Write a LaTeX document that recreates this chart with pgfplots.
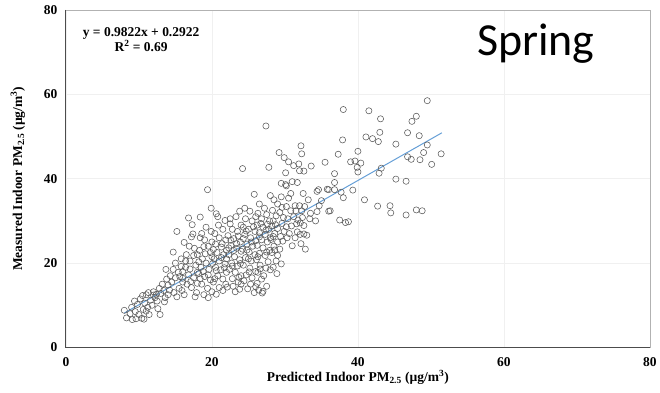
\documentclass[border=0pt]{standalone}
\usepackage{pgfplots}
\pgfplotsset{compat=1.18}
\usepackage{fontspec}
\setmainfont{Liberation Serif}
\newfontfamily\calibri{Carlito}
\definecolor{trend}{RGB}{100,158,214}
\begin{document}
\begin{tikzpicture}
\begin{axis}[
  at={(0,0)}, anchor=south west,
  scale only axis, width=585pt, height=338pt,
  xmin=0, xmax=80, ymin=0, ymax=80,
  xtick={0,20,40,60,80}, ytick={0,20,40,60,80},
  major tick length=0pt,
  grid=major, grid style={draw=gray!12, line width=0.6pt},
  axis line style={draw=gray!60, line width=0.8pt},
  /pgf/number format/assume math mode=true,
  ticklabel style={font=\fontsize{13.5}{15}\selectfont\bfseries},
  yticklabel style={xshift=-5pt},
  xticklabel style={yshift=-7pt},
  xlabel={\textbf{Predicted Indoor PM\textsubscript{2.5} (µg/m\textsuperscript{3})}},
  ylabel={\textbf{Measured Indoor PM\textsubscript{2.5} (µg/m\textsuperscript{3})}},
  label style={font=\fontsize{13.5}{15}\selectfont},
  xlabel style={yshift=4pt},
  ylabel style={yshift=12pt},
  clip=false,
]
\draw[black!70, line width=1pt] (rel axis cs:0,1) -- (rel axis cs:0,0) -- (rel axis cs:1,0);
\addplot[only marks, mark=o, mark size=3.1pt, draw=black!65, mark options={line width=0.55pt, fill=none}] coordinates {
(8.3,7.0)(8.0,8.8)(9.1,6.6)(9.6,6.8)(10.4,6.9)(10.7,6.7)(10.0,7.8)(9.0,9.5)(9.5,8.5)(8.8,8.0)(9.8,10.2)(10.2,11.5)(9.4,11.0)
(10.5,12.3)(11.0,12.5)(11.4,7.8)(11.2,9.5)(10.8,10.5)(11.6,11.2)(12.0,12.4)(11.8,10.0)(10.6,9.0)(11.3,13.0)(12.2,11.8)(11.0,8.6)(12.0,13.2)
(12.6,9.2)(12.9,7.8)(12.5,11.0)(13.0,12.8)(13.4,13.5)(12.8,14.0)(13.6,11.8)(14.0,12.5)(13.2,15.0)(13.8,16.2)(13.7,18.5)(14.0,14.8)(12.4,12.6)(13.5,10.8)(14.2,13.6)
(14.7,18.5)(14.5,15.5)(15.0,16.5)(15.5,14.0)(15.8,19.2)(14.7,22.6)(15.2,27.5)(15.4,17.8)(16.0,15.5)(14.8,13.0)(15.2,12.0)(15.8,21.0)(16.0,18.0)(15.6,16.8)(14.3,17.0)(15.0,20.0)(16.2,24.9)(15.9,13.5)
(16.8,30.7)(17.3,29.1)(17.4,26.9)(17.2,26.2)(16.5,22.0)(17.0,20.5)(17.5,21.8)(16.4,19.0)(17.8,19.5)(16.8,17.2)(17.5,16.5)(18.0,17.8)(16.6,15.0)(17.2,14.2)(17.9,13.0)(16.2,12.5)(17.6,23.5)(18.0,22.0)(16.9,24.0)(17.7,12.0)(18.0,15.2)(16.4,20.5)
(18.4,30.9)(19.4,37.4)(19.9,33.0)(18.6,27.0)(19.0,25.5)(19.5,24.0)(18.3,23.0)(19.8,22.5)(18.7,21.0)(19.2,20.0)(20.0,21.5)(18.5,19.0)(19.6,18.5)(18.2,17.5)(19.0,16.8)(19.8,16.0)(18.6,15.0)(19.4,14.0)(20.0,13.2)(18.9,12.5)(19.5,11.8)(18.4,26.0)(19.9,27.5)(19.2,28.5)(20.0,25.0)(18.8,18.0)
(20.6,31.7)(20.8,31.0)(21.8,30.1)(21.5,28.0)(20.4,27.0)(21.0,26.0)(21.9,25.5)(20.5,24.5)(21.3,23.8)(22.0,23.0)(20.7,22.5)(21.6,22.0)(20.3,21.0)(21.0,20.5)(21.8,19.8)(20.5,19.0)(21.2,18.4)(22.0,17.8)(20.8,17.0)(21.5,16.2)(20.2,15.5)(21.9,15.0)(21.0,14.2)(20.6,12.6)(21.5,13.5)(22.0,21.0)(20.9,29.0)
(22.5,29.3)(23.8,32.3)(24.2,42.4)(22.8,28.0)(23.5,27.5)(22.2,26.5)(23.0,25.8)(23.9,25.0)(22.6,24.2)(23.4,23.5)(24.0,22.8)(22.3,22.0)(23.1,21.5)(23.8,20.8)(22.7,20.0)(23.5,19.3)(22.4,18.5)(23.2,17.8)(24.0,17.0)(22.8,16.3)(23.6,15.5)(22.9,14.5)(23.8,13.8)(24.0,15.0)(23.2,13.2)(22.5,30.5)(24.0,29.0)(23.3,31.0)
(25.2,32.3)(25.8,36.3)(24.6,30.5)(25.5,30.0)(24.3,28.5)(25.0,28.0)(25.9,27.5)(24.5,26.8)(25.3,26.0)(26.0,25.3)(24.8,24.5)(25.6,24.0)(24.2,23.3)(25.1,22.6)(25.9,22.0)(24.6,21.3)(25.4,20.5)(24.3,19.5)(25.2,18.8)(26.0,18.0)(24.7,17.2)(25.5,16.5)(24.4,15.8)(25.3,15.0)(26.0,14.4)(24.9,13.9)(25.8,13.0)(24.5,33.0)(26.0,31.0)
(27.4,52.5)(27.8,42.7)(28.0,36.0)(26.5,34.0)(27.2,33.0)(26.3,31.8)(27.5,31.5)(26.8,30.5)(27.9,30.0)(26.2,29.0)(27.0,28.5)(27.8,28.0)(26.5,27.2)(27.3,26.8)(28.0,26.0)(26.8,25.5)(27.6,25.0)(26.2,24.2)(27.0,23.6)(27.9,23.0)(26.5,22.3)(27.3,21.8)(26.1,20.8)(27.7,20.3)(26.6,19.5)(27.4,18.8)(26.3,17.8)(27.1,17.0)(26.8,16.2)(27.0,13.3)(26.9,12.9)(26.4,13.6)(27.5,14.5)(26.2,15.2)
(29.2,46.2)(29.9,45.0)(29.5,38.9)(29.5,35.7)(28.5,35.0)(29.0,34.0)(29.6,33.2)(28.3,32.5)(29.3,32.0)(28.8,31.2)(29.8,30.8)(28.4,30.0)(29.6,29.4)(28.2,28.8)(29.0,28.2)(29.9,27.5)(28.6,27.0)(29.4,26.3)(28.1,25.6)(29.0,25.0)(29.7,25.2)(28.5,24.0)(29.3,23.3)(28.2,22.5)(29.0,21.8)(28.8,20.5)(29.5,19.8)(28.4,19.0)(28.9,17.5)
(30.5,44.0)(31.2,43.1)(31.9,43.5)(30.1,41.4)(30.1,38.6)(31.0,39.3)(31.7,39.1)(30.2,38.3)(30.5,35.4)(31.4,33.6)(32.0,33.6)(30.2,33.4)(30.8,32.4)(31.5,32.4)(30.2,28.6)(30.9,28.8)(31.6,29.3)(31.7,27.4)(31.0,24.1)(30.4,30.5)(31.2,31.0)(30.6,27.0)(31.4,26.0)(30.3,26.0)(31.8,30.2)(30.8,36.5)
(32.2,47.8)(32.3,45.9)(32.0,41.9)(32.6,41.8)(33.6,43.0)(32.7,33.4)(32.3,32.4)(32.4,30.8)(33.4,30.5)(32.1,29.5)(32.6,28.9)(32.1,26.8)(32.6,26.9)(33.0,26.6)(32.2,24.6)(32.8,23.3)(33.5,31.8)(33.2,35.0)(32.5,36.5)
(34.4,37.0)(34.6,37.4)(35.5,43.9)(35.8,37.5)(36.0,37.4)(34.7,33.6)(34.4,32.2)(36.0,32.3)(35.0,34.8)(34.2,30.0)
(36.8,37.4)(37.7,36.8)(39.3,37.3)(36.8,41.2)(36.8,39.1)(37.3,45.8)(37.9,49.2)(38.0,56.4)(39.0,44.0)(39.6,44.2)(40.4,43.7)(39.9,42.7)(40.0,41.6)(40.0,46.5)(37.5,30.2)(38.3,29.6)(38.7,29.8)(36.2,32.4)(38.0,35.5)
(40.9,35.0)(41.1,49.9)(41.5,56.1)(42.0,49.5)(42.7,33.5)(42.8,48.8)(42.9,41.3)(43.0,51.0)(43.1,54.2)(43.2,42.5)(44.4,33.6)(44.5,31.9)(45.2,48.2)(45.2,39.9)(46.6,39.4)(46.6,31.4)(46.8,50.9)(46.8,45.2)(47.3,44.6)(47.4,53.6)(48.0,54.8)(48.0,32.6)(48.4,50.2)(48.5,44.5)(48.8,32.4)(49.0,46.2)(49.5,58.5)(49.5,48.0)(50.1,43.4)(51.4,45.9)
(17.0,18.6)(18.2,20.3)(19.1,22.2)(20.2,23.2)(21.4,24.6)(22.6,25.4)(23.6,26.4)(24.7,27.6)(25.7,28.6)(26.7,29.4)(27.6,29.2)(28.7,29.1)
(16.0,16.4)(17.1,15.6)(18.4,16.3)(19.5,17.2)(20.6,18.2)(21.7,18.9)(22.8,19.3)(23.9,19.9)(25.0,21.0)(26.3,21.5)(27.5,22.6)(28.6,23.1)
(18.9,23.9)(20.1,19.9)(21.3,21.3)(22.3,23.6)(23.4,24.6)(24.3,25.8)(25.4,25.0)(26.5,26.2)(27.4,27.8)(28.4,26.3)(20.4,16.3)(22.1,14.3)(23.7,16.6)(25.1,17.9)(26.6,18.6)(28.0,18.4)(23.0,23.0)(24.8,23.1)
};
\addplot[trend, line width=1pt] coordinates {(8.0,8.15)(51.5,50.88)};
\node[anchor=base, font=\fontsize{13.5}{15}\selectfont\bfseries] at (axis cs:10.3,73.8) {y = 0.9822x + 0.2922};
\node[anchor=base, font=\fontsize{13.5}{15}\selectfont\bfseries] at (axis cs:10.3,70.1) {R\textsuperscript{2} = 0.69};
\node[anchor=base west, inner sep=0pt, font=\calibri\fontsize{46}{50}\selectfont] at (axis cs:56.3,69.3) {Spring};
\end{axis}
\path (-66pt,-45pt) rectangle (594pt,348pt);
\end{tikzpicture}
\end{document}
